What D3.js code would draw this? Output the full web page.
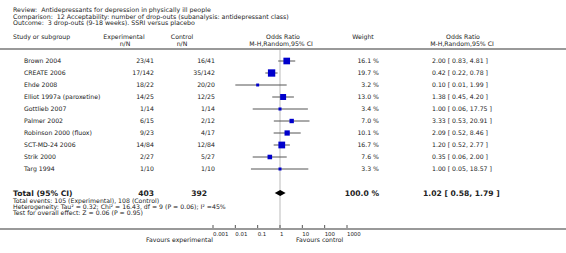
<!DOCTYPE html>
<html>
<head>
<meta charset="utf-8">
<script src="https://cdn.jsdelivr.net/npm/d3@7"></script>
<style>
  body { margin: 0; background: #fff; }
  svg text { font-family: "DejaVu Sans", Verdana, sans-serif; fill: #222; white-space: pre; }
</style>
</head>
<body>
<svg id="chart" width="566" height="253"></svg>
<script>
// data
const studies = ["Brown 2004", "CREATE 2006", "Ehde 2008", "Elliot 1997a (paroxetine)", "Gottlieb 2007",
  "Palmer 2002", "Robinson 2000 (fluox)", "SCT-MD-24 2006", "Strik 2000", "Targ 1994"];
const experimental = ["23/41", "17/142", "18/22", "14/25", "1/14", "6/15", "9/23", "14/84", "2/27", "1/10"];
const control = ["16/41", "35/142", "20/20", "12/25", "1/14", "2/12", "4/17", "12/84", "5/27", "1/10"];
const weights = [16.1, 19.7, 3.2, 13.0, 3.4, 7.0, 10.1, 16.7, 7.6, 3.3];
const oddsRatio = [2.00, 0.42, 0.10, 1.38, 1.00, 3.33, 2.09, 1.20, 0.35, 1.00];
const ciLow = [0.83, 0.22, 0.01, 0.45, 0.06, 0.53, 0.52, 0.52, 0.06, 0.05];
const ciHigh = [4.81, 0.78, 1.99, 4.20, 17.75, 20.91, 8.46, 2.77, 2.00, 18.57];
const total = { exp: 403, ctl: 392, weight: 100.0, or: 1.02, lo: 0.58, hi: 1.79 };
const axisTicks = [0.001, 0.01, 0.1, 1, 10, 100, 1000];
const tickLabels = ["0.001", "0.01", "0.1", "1", "10", "100", "1000"];

const svg = d3.select("#chart");

const x = d3.scaleLog().domain([0.001, 1000]).range([213, 347]);
const y = d3.scaleLinear().domain([0, 9]).range([61, 169]);
const boxSize = d3.scaleSqrt().domain([0, 20]).range([0, 7.4]);

const fmt = d3.format(".2f");

// title block
const header = [
  "Review:  Antidepressants for depression in physically ill people",
  "Comparison:  12 Acceptability: number of drop-outs (subanalysis: antidepressant class)",
  "Outcome:  3 drop-outs (9-18 weeks). SSRI versus placebo"
];
svg.selectAll("text.title")
  .data(header)
  .enter()
  .append("text")
  .attr("class", "title")
  .attr("x", 13)
  .attr("y", (d, i) => 12 + i * 6.6)
  .attr("font-size", 6.3)
  .text((d) => d);

// column headings
const heads = [
  { t: "Study or subgroup", x: 13, y: 39, a: "start" },
  { t: "Experimental", x: 124, y: 39, a: "middle" },
  { t: "n/N", x: 125, y: 45.5, a: "middle" },
  { t: "Control", x: 182, y: 39, a: "middle" },
  { t: "n/N", x: 182, y: 45.5, a: "middle" },
  { t: "Odds Ratio", x: 283, y: 39, a: "middle" },
  { t: "M-H,Random,95% CI", x: 281, y: 45.5, a: "middle" },
  { t: "Weight", x: 363, y: 39, a: "middle" },
  { t: "Odds Ratio", x: 463, y: 39, a: "middle" },
  { t: "M-H,Random,95% CI", x: 462, y: 45.5, a: "middle" }
];
svg.selectAll("text.head")
  .data(heads)
  .enter()
  .append("text")
  .attr("class", "head")
  .attr("x", (d) => d.x)
  .attr("y", (d) => d.y)
  .attr("text-anchor", (d) => d.a)
  .attr("font-size", 6.2)
  .text((d) => d.t);

// separator line under headings
svg.append("line")
  .attr("x1", 0).attr("x2", 566)
  .attr("y1", 49).attr("y2", 49)
  .attr("stroke", "#999").attr("stroke-width", 2);

// line of no effect
svg.append("line")
  .attr("x1", x(1)).attr("x2", x(1))
  .attr("y1", 50).attr("y2", 228)
  .attr("stroke", "#ddd").attr("stroke-width", 2);

// study rows
const rows = svg.selectAll("g.row")
  .data(studies)
  .enter()
  .append("g")
  .attr("class", "row")
  .attr("transform", (d, i) => `translate(0, ${y(i)})`);

rows.append("text").attr("x", 24).attr("dy", "0.35em").attr("font-size", 6.2).text((d) => d);
rows.append("text").attr("x", 154).attr("dy", "0.35em").attr("text-anchor", "end").attr("font-size", 6.2)
  .text((d, i) => experimental[i]);
rows.append("text").attr("x", 215).attr("dy", "0.35em").attr("text-anchor", "end").attr("font-size", 6.2)
  .text((d, i) => control[i]);
rows.append("text").attr("x", 379).attr("dy", "0.35em").attr("text-anchor", "end").attr("font-size", 6.2)
  .text((d, i) => weights[i].toFixed(1) + " %");
rows.append("text").attr("x", 432).attr("dy", "0.35em").attr("font-size", 6.2).attr("fill", "#444")
  .text((d, i) => `${fmt(oddsRatio[i])} [ ${fmt(ciLow[i])}, ${fmt(ciHigh[i])} ]`);

rows.append("line")
  .attr("x1", (d, i) => x(ciLow[i]))
  .attr("x2", (d, i) => x(ciHigh[i]))
  .attr("stroke", "#555")
  .attr("stroke-width", 1);

rows.append("rect")
  .attr("x", (d, i) => x(oddsRatio[i]) - boxSize(weights[i]) / 2)
  .attr("y", (d, i) => -boxSize(weights[i]) / 2)
  .attr("width", (d, i) => boxSize(weights[i]))
  .attr("height", (d, i) => boxSize(weights[i]))
  .attr("fill", "#0000cc");

// total row
const yTot = 193;
const totalTexts = [
  { t: "Total (95% CI)", x: 13, a: "start" },
  { t: String(total.exp), x: 154, a: "end" },
  { t: String(total.ctl), x: 207, a: "end" },
  { t: total.weight.toFixed(1) + " %", x: 379, a: "end" },
  { t: `${fmt(total.or)} [ ${fmt(total.lo)}, ${fmt(total.hi)} ]`, x: 423, a: "start" }
];
svg.selectAll("text.total")
  .data(totalTexts)
  .enter()
  .append("text")
  .attr("class", "total")
  .attr("x", (d) => d.x)
  .attr("y", yTot)
  .attr("dy", "0.35em")
  .attr("text-anchor", (d) => d.a)
  .attr("font-size", 7.6)
  .attr("font-weight", "bold")
  .text((d) => d.t);

svg.append("path")
  .attr("d", d3.line()([
    [x(total.lo), yTot], [x(total.or), yTot - 3],
    [x(total.hi), yTot], [x(total.or), yTot + 3]
  ]) + "Z")
  .attr("fill", "#000");

// summary statistics
const notes = [
  "Total events: 105 (Experimental), 108 (Control)",
  "Heterogeneity: Tau² = 0.32; Chi² = 16.43, df = 9 (P = 0.06); I² =45%",
  "Test for overall effect: Z = 0.06 (P = 0.95)"
];
svg.selectAll("text.note")
  .data(notes)
  .enter()
  .append("text")
  .attr("class", "note")
  .attr("x", 13)
  .attr("y", (d, i) => 203 + i * 6.2)
  .attr("font-size", 6.2)
  .text((d) => d);

// axis
svg.append("line")
  .attr("x1", 0).attr("x2", 566)
  .attr("y1", 229).attr("y2", 229)
  .attr("stroke", "#999").attr("stroke-width", 2);

svg.selectAll("line.tick")
  .data(axisTicks)
  .enter()
  .append("line")
  .attr("class", "tick")
  .attr("x1", (d) => x(d)).attr("x2", (d) => x(d))
  .attr("y1", 225).attr("y2", 228)
  .attr("stroke", "#555");

svg.selectAll("text.ticklabel")
  .data(axisTicks)
  .enter()
  .append("text")
  .attr("class", "ticklabel")
  .attr("x", (d) => x(d))
  .attr("y", 235.8)
  .attr("font-size", 5.4)
  .text((d, i) => tickLabels[i]);

svg.append("text").attr("x", 213).attr("y", 241.5).attr("text-anchor", "end")
  .attr("font-size", 6.2).text("Favours experimental");
svg.append("text").attr("x", 296).attr("y", 241.5)
  .attr("font-size", 6.2).text("Favours control");
</script>
</body>
</html>
